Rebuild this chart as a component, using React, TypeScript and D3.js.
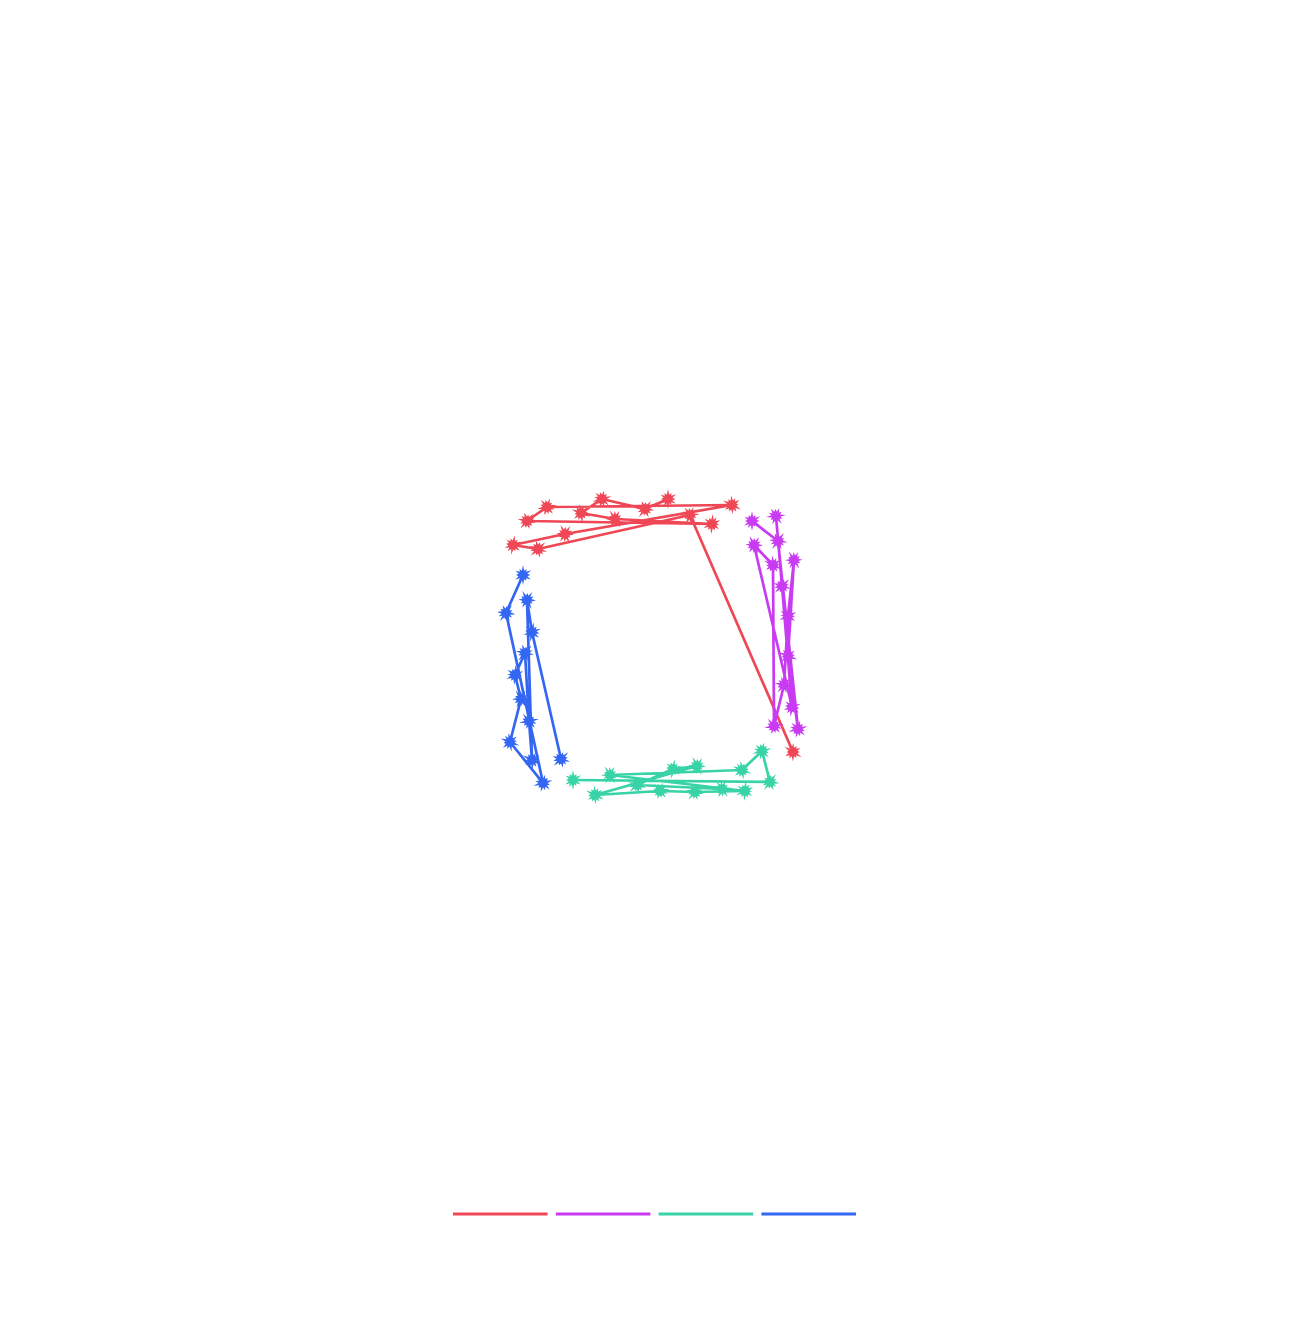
import React from "react";
import * as d3 from "d3";

// Data values: x and y in chart units (domain 0..300)
const seriesNames = ["A", "B", "C", "D"];
const colors = ["#ef4756", "#c93bf2", "#38d3a6", "#3366f2"];

const redX = [168, 145, 102, 81, 115, 212, 27, 47, 232, 65, 13, 38, 190, 293];
const redY = [301, 291, 301, 287, 281, 276, 279, 293, 295, 266, 255, 251, 285, 48];

const purpleX = [252, 278, 298, 288, 294, 288, 284, 274, 273, 254, 292, 282, 276];
const purpleY = [279, 259, 71, 144, 240, 184, 115, 74, 235, 255, 93, 214, 284];

const tealX = [73, 270, 262, 242, 110, 245, 195, 160, 95, 197, 173, 137, 222];
const tealY = [20, 18, 49, 30, 25, 9, 8, 9, 5, 34, 31, 15, 11];

const blueX = [23, 6, 43, 10, 21, 15, 25, 29, 32, 27, 32, 61];
const blueY = [225, 187, 17, 58, 101, 125, 147, 79, 40, 200, 168, 41];

const seriesX = [redX, purpleX, tealX, blueX];
const seriesY = [redY, purpleY, tealY, blueY];

const W = 1290;
const H = 1326;

const x = d3.scaleLinear().domain([0, 300]).range([500, 800]);
const y = d3.scaleLinear().domain([0, 300]).range([800, 500]);

const spikes = [10, 7, 9.5, 7.5, 9, 6.5, 10, 8, 9, 7, 8.5, 7];
function starPath(): string {
  const n = spikes.length;
  const pts: [number, number][] = [];
  for (let i = 0; i < n; i++) {
    const a = (i / n) * Math.PI * 2 - Math.PI / 2;
    const a2 = ((i + 0.5) / n) * Math.PI * 2 - Math.PI / 2;
    pts.push([Math.cos(a) * spikes[i], Math.sin(a) * spikes[i]]);
    pts.push([Math.cos(a2) * 4.5, Math.sin(a2) * 4.5]);
  }
  return "M" + pts.map((p) => p[0].toFixed(2) + "," + p[1].toFixed(2)).join("L") + "Z";
}
const star = starPath();

export default function App() {
  const line = d3
    .line<[number, number]>()
    .x((d) => x(d[0]))
    .y((d) => y(d[1]));
  const legendScale = d3
    .scaleBand<string>()
    .domain(seriesNames)
    .range([453, 856])
    .paddingInner(0.08);
  return (
    <svg
      width={W}
      height={H}
      style={{ position: "absolute", left: 0, top: 0, background: "#fff" }}
    >
      {seriesX.map((xs, si) => {
        const pts: [number, number][] = xs.map((v, i) => [v, seriesY[si][i]]);
        return (
          <g key={si}>
            <path
              d={line(pts) || ""}
              fill="none"
              stroke={colors[si]}
              strokeWidth={2.7}
              strokeLinejoin="round"
            />
            {pts.map((p, i) => (
              <path
                key={i}
                d={star}
                transform={`translate(${x(p[0])},${y(p[1])}) rotate(${(i * 37) % 360})`}
                fill={colors[si]}
              />
            ))}
          </g>
        );
      })}
      {seriesNames.map((n, i) => (
        <line
          key={n}
          x1={legendScale(n)!}
          x2={legendScale(n)! + legendScale.bandwidth()}
          y1={1214}
          y2={1214}
          stroke={colors[i]}
          strokeWidth={3}
        />
      ))}
    </svg>
  );
}
